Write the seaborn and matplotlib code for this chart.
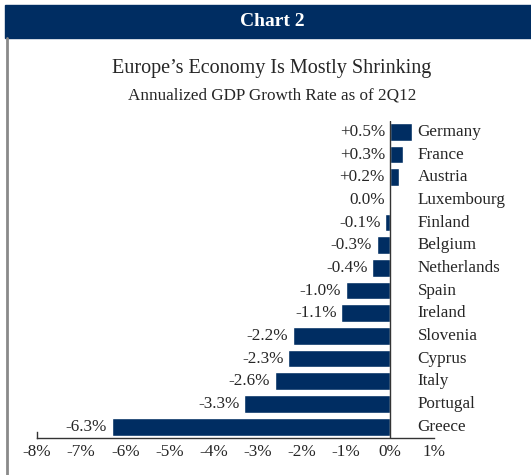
import matplotlib
matplotlib.use("Agg")
import matplotlib.pyplot as plt
import seaborn as sns
import pandas as pd
from matplotlib.patches import Rectangle
from matplotlib.lines import Line2D

countries = ["Germany", "France", "Austria", "Luxembourg", "Finland", "Belgium",
             "Netherlands", "Spain", "Ireland", "Slovenia", "Cyprus", "Italy",
             "Portugal", "Greece"]
growth = [0.5, 0.3, 0.2, 0.0, -0.1, -0.3, -0.4, -1.0, -1.1, -2.2, -2.3, -2.6, -3.3, -6.3]
value_labels = ["+0.5%", "+0.3%", "+0.2%", "0.0%", "-0.1%", "-0.3%", "-0.4%", "-1.0%",
                "-1.1%", "-2.2%", "-2.3%", "-2.6%", "-3.3%", "-6.3%"]
x_ticks = [-8, -7, -6, -5, -4, -3, -2, -1, 0, 1]
x_tick_labels = ["-8%", "-7%", "-6%", "-5%", "-4%", "-3%", "-2%", "-1%", "0%", "1%"]

NAVY = "#002D62"
TEXT = "#262626"
SERIF = ["Liberation Serif", "DejaVu Serif"]

sns.set_theme(style="white")
plt.rcParams["font.family"] = SERIF

df = pd.DataFrame({"country": countries, "growth": growth})

fig = plt.figure(figsize=(5.31, 4.75), dpi=100)
ax = fig.add_axes([37 / 531, 1 - 438 / 475, (434 - 37) / 531, (438 - 120.6) / 475])

sns.barplot(data=df, x="growth", y="country", orient="h", color=NAVY,
            saturation=1, width=0.78, ax=ax)

ax.set_xlim(-8, 1)
ax.set_ylim(13.5, -0.5)
ax.set_xticks(x_ticks)
ax.set_xticklabels(x_tick_labels, fontsize=12.3, color=TEXT)
ax.set_yticks([])
ax.set_xlabel("")
ax.set_ylabel("")
ax.tick_params(axis="x", length=0, pad=4)

for side in ["top", "right"]:
    ax.spines[side].set_visible(False)
ax.spines["bottom"].set_color("#333333")
ax.spines["bottom"].set_linewidth(1.0)
ax.spines["left"].set_color("#333333")
ax.spines["left"].set_linewidth(1.0)
ax.spines["left"].set_bounds(13.22, 13.5)

# zero reference line
ax.axvline(0, color="#333333", lw=1.0, zorder=3)

# value labels and country names
for i, (v, lab, name) in enumerate(zip(growth, value_labels, countries)):
    ax.annotate(lab, xy=(min(v, 0), i), xytext=(-3.5, 0), textcoords="offset points",
                ha="right", va="center", fontsize=12.3, color=TEXT)
    ax.annotate(name, xy=(0, i), xytext=(20, 0), textcoords="offset points",
                ha="left", va="center", fontsize=12.3, color=TEXT)

# header band and frame
fig.patches.append(Rectangle((5 / 531, 1 - 38 / 475), 1, 33 / 475,
                             transform=fig.transFigure, color=NAVY, zorder=0))
fig.lines.append(Line2D([7 / 531, 7 / 531], [0, 1 - 38 / 475],
                        transform=fig.transFigure, color="#8a8a8a", lw=2))
fig.text(272 / 531, 1 - 21 / 475, "Chart 2", ha="center", va="center",
         fontsize=14, fontweight="bold", color="white")

fig.text(272 / 531, 1 - 69 / 475, "Europe\u2019s Economy Is Mostly Shrinking",
         ha="center", va="center", fontsize=14.5, color=TEXT)
fig.text(272 / 531, 1 - 95 / 475, "Annualized GDP Growth Rate as of 2Q12",
         ha="center", va="center", fontsize=12.3, color=TEXT)

fig.savefig("out.png", dpi=100)
